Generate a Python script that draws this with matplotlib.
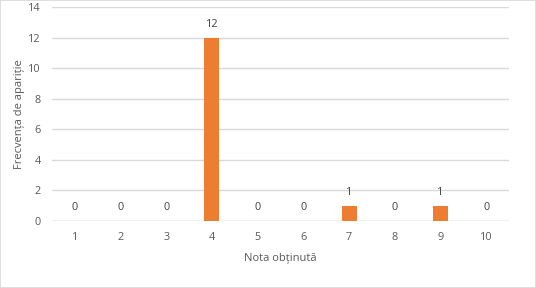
import matplotlib
matplotlib.use("Agg")
import matplotlib.pyplot as plt
from matplotlib.patches import Rectangle

categories = ["1", "2", "3", "4", "5", "6", "7", "8", "9", "10"]
values = [0, 0, 0, 12, 0, 0, 1, 0, 1, 0]
y_ticks = [0, 2, 4, 6, 8, 10, 12, 14]
x_label = "Nota obținută"
y_label = "Frecvența de apariție"

plt.rcParams['font.family'] = ['Open Sans', 'DejaVu Sans']
text_color = "#595959"
grid_color = "#D9D9D9"
bar_color = "#ED7D31"

W, H = 536, 288
fig = plt.figure(figsize=(W / 100, H / 100), dpi=100)
fig.patches.append(Rectangle((0, 0), 1, 1, transform=fig.transFigure,
                             fill=False, edgecolor=grid_color, linewidth=1.2))

left, right, top, bottom = 52, 509, 7, 221
ax = fig.add_axes([left / W, 1 - bottom / H, (right - left) / W, (bottom - top) / H])

x = list(range(len(categories)))
bars = ax.bar(x, values, width=0.33, color=bar_color, zorder=3)
ax.set_xlim(-0.5, len(categories) - 0.5)
ax.set_ylim(0, 14)
ax.set_yticks(y_ticks)
ax.set_xticks(x)
ax.set_xticklabels(categories)
ax.grid(axis='y', color=grid_color, linewidth=1, zorder=0)
for s in ax.spines.values():
    s.set_visible(False)
ax.axhline(0, color=grid_color, linewidth=1, zorder=2)
ax.tick_params(axis='both', length=0, labelsize=7.8, colors=text_color)
ax.tick_params(axis='x', pad=8)
ax.tick_params(axis='y', pad=8)

for xi, v in zip(x, values):
    ax.annotate(str(v), (xi, v), xytext=(0, 9.5), textcoords='offset points',
                ha='center', va='center', fontsize=7.8, color="#404040")

ax.set_xlabel(x_label, fontsize=8, color=text_color, labelpad=7)
ax.set_ylabel(y_label, fontsize=8, color=text_color, labelpad=2)

fig.savefig("out.png", dpi=100)
